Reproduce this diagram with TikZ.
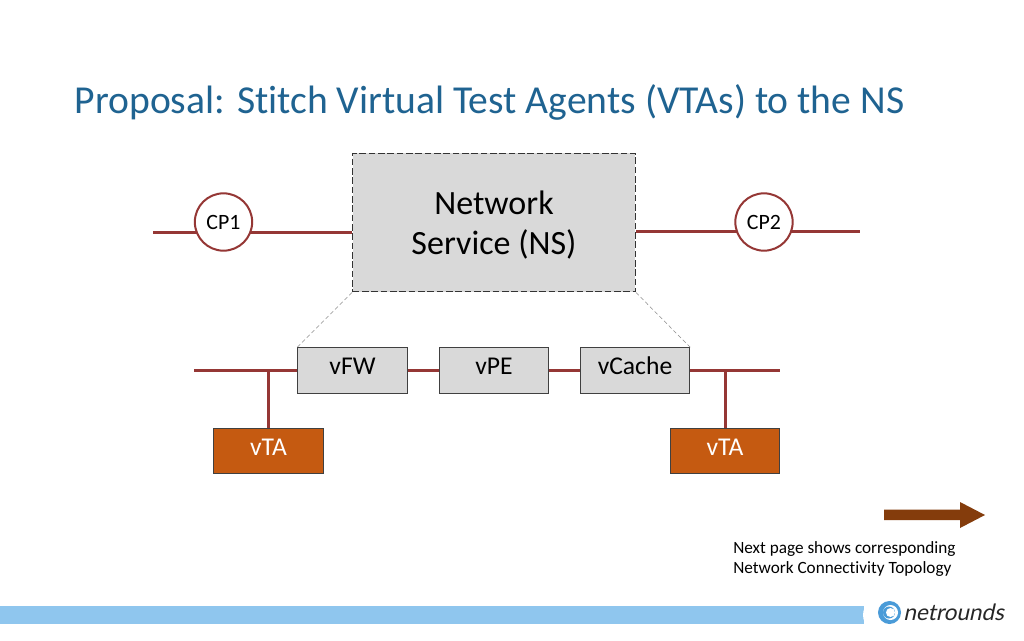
\documentclass[tikz,border=0pt]{standalone}
\usepackage{fontspec}
\setmainfont[Ligatures=NoCommon,Contextuals=NoAlternate]{Carlito}
\newfontfamily\logofont[FakeSlant=0.22]{Lato}
\definecolor{titleblue}{HTML}{1F6391}
\definecolor{linkred}{HTML}{953735}
\definecolor{boxgrey}{HTML}{D9D9D9}
\definecolor{vtaorange}{HTML}{C55A11}
\definecolor{arrowbrown}{HTML}{843C0C}
\definecolor{barblue}{HTML}{8FC6EE}
\definecolor{logoblue}{HTML}{4A9BD8}
\newcommand{\fs}[1]{\fontsize{#1}{30}\selectfont}
\tikzset{
  x=0.75pt,y=-0.75pt,
  link/.style={draw=linkred,line width=2.25pt},
  vbox/.style={draw=black!75,fill=boxgrey,line width=0.8pt,minimum width=82pt,minimum height=34pt,inner sep=0pt,font=\fs{19.2},text=black,text height=.83em,text depth=.17em},
  vtabox/.style={draw=black!75,fill=vtaorange,line width=0.8pt,minimum width=82pt,minimum height=34pt,inner sep=0pt,font=\fs{19.2},text=white,text height=.83em,text depth=.17em},
  cpnode/.style={circle,draw=linkred,fill=white,line width=1.5pt,minimum size=43pt,inner sep=0pt,font=\fs{16.4}},
  guide/.style={draw=black!45,densely dashed,line width=0.4pt},
}
\begin{document}
\begin{tikzpicture}
\useasboundingbox (0,0) rectangle (1024,640);
\fill[white] (0,0) rectangle (1024,640);
\node[anchor=base west,inner sep=0pt,text=titleblue,font=\fs{29.7}] (title) at (74.5,113.5) {Proposal: Stitch Virtual Test Agents (VTAs) to the NS};

% network service
\node[draw=black!80,dash pattern=on 5pt off 2pt,fill=boxgrey,line width=0.9pt,minimum width=212pt,minimum height=104pt,inner sep=0pt] (ns) at (494,222.5) {};
\node[inner sep=0pt,font=\fs{25.5}] (nsa) at (494,203) {Network};
\node[inner sep=0pt,font=\fs{25.5}] (nsb) at (494,244) {Service (NS)};

% connection points
\coordinate (l1) at (153,232.5);
\coordinate (r1) at (860,231.5);
\coordinate (nsl) at (352,232.5);
\coordinate (nsr) at (636,231.5);
\draw[link] (l1) -- (nsl);
\draw[link] (nsr) -- (r1);
\node[cpnode] (cp1) at (223.5,222) {CP1};
\node[cpnode] (cp2) at (764,222) {CP2};

% service chain
\node[vbox] (vfw) at (352.5,370.5) {vFW};
\node[vbox] (vpe) at (494,370.5) {vPE};
\node[vbox] (vcache) at (635,370.5) {vCache};
\node[vtabox] (vta1) at (268.5,451) {vTA};
\node[vtabox] (vta2) at (725,451) {vTA};
\coordinate (l2) at (194,370.5);
\coordinate (r2) at (780,370.5);
\coordinate (j1) at (268.5,370.5);
\coordinate (j2) at (725.5,370.5);
\draw[link] (l2) -- (vfw.west);
\draw[link] (vfw) -- (vpe);
\draw[link] (vpe) -- (vcache);
\draw[link] (vcache.east) -- (r2);
\draw[link] (j1) -- (vta1.north);
\draw[link] (j2) -- (j2 |- vta2.north);
\draw[guide] (ns.south west) -- (vfw.north west);
\draw[guide] (ns.south east) -- (vcache.north east);

% next page
\fill[arrowbrown] (884,509.5) -- (960,509.5) -- (960,502) -- (985,515) -- (960,528) -- (960,520) -- (884,520) -- cycle;
\node[anchor=base west,inner sep=0pt,font=\fs{12.9}] (n1) at (733,553) {Next page shows corresponding};
\node[anchor=base west,inner sep=0pt,font=\fs{12.9}] (n2) at (733,573) {Network Connectivity Topology};

% footer
\fill[barblue] (0,606) rectangle (864,624);
\fill[white] (870,615) ellipse (7 and 11);
\fill[logoblue] (889.5,612.5) circle (11.5);
\fill[white] (890.5,612.5) circle (7.5);
\fill[logoblue] (889,612.5) circle (6);
\fill[white] (890.5,612.5) circle (4.5);
\node[anchor=base west,inner sep=0pt,font=\logofont\fs{16.9},text=black!85] (logo) at (903,620) {netrounds};
\end{tikzpicture}
\end{document}
